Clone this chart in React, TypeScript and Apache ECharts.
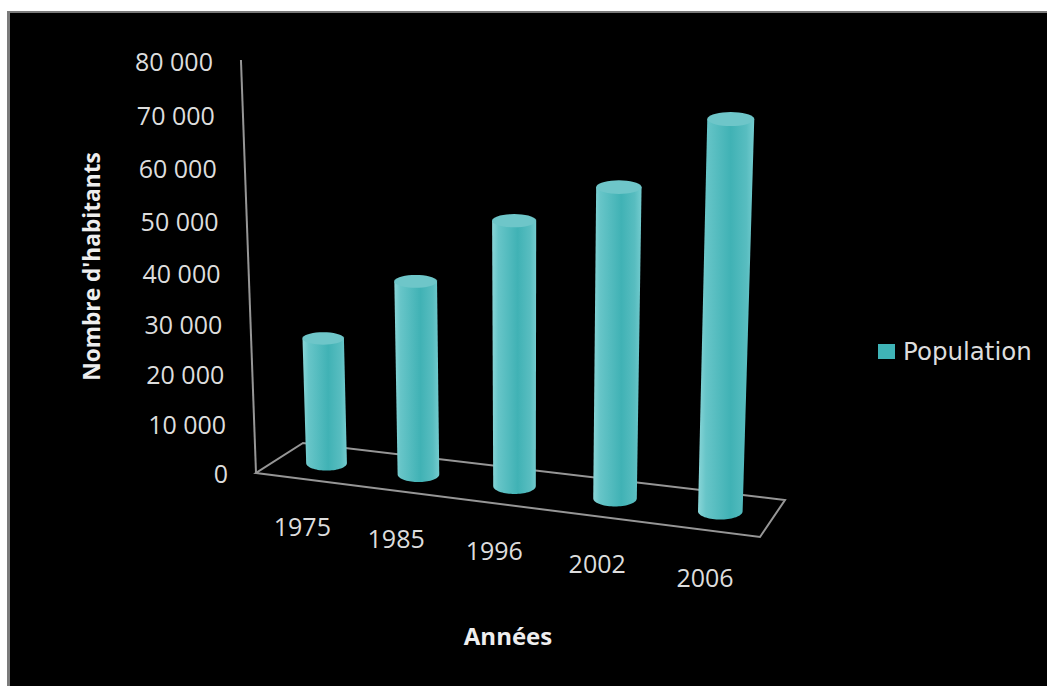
import React, { useEffect, useRef } from "react";
import * as echarts from "echarts";

// Population by census year
const categories = ["1975", "1985", "1996", "2002", "2006"];
const population = [24500, 37100, 49900, 57200, 70400];
const valueTicks = [0, 10000, 20000, 30000, 40000, 50000, 60000, 70000, 80000];

const WIDTH = 1047;
const HEIGHT = 686;
const GRID = { left: 256, top: 60, width: 504, height: 413 };

// Floor corners on screen: front-left, front-right, back-right, back-left
const FLOOR = [
  [256, 473],
  [760, 537],
  [785, 500],
  [303, 443],
];
const BAR_DEPTH = 0.5;
const BAR_SHIFT = 2;
const BAR_RADIUS = 0.205; // share of a category band
const LEAN = 0.000136; // convergence of the verticals
const LEAN_CENTER = 524;

const TEXT_FONT = "'Open Sans', sans-serif";
const TEXT_COLOR = "#dddddd";
const FRAME_COLOR = "#969696";
const BAR_COLOR = "#3fb4b7";

// Projective map from the unit floor square to the screen
function buildFloorMap() {
  const [[x0, y0], [x1, y1], [x2, y2], [x3, y3]] = FLOOR;
  const dx1 = x1 - x2, dx2 = x3 - x2, sx = x0 - x1 + x2 - x3;
  const dy1 = y1 - y2, dy2 = y3 - y2, sy = y0 - y1 + y2 - y3;
  const den = dx1 * dy2 - dx2 * dy1;
  const g = (sx * dy2 - dx2 * sy) / den;
  const h = (dx1 * sy - sx * dy1) / den;
  const a = x1 - x0 + g * x1, b = x3 - x0 + h * x3;
  const d = y1 - y0 + g * y1, e = y3 - y0 + h * y3;
  return (u: number, v: number) => {
    const w = 1 + g * u + h * v;
    return { x: (a * u + b * v + x0) / w, y: (d * u + e * v + y0) / w, scale: 1 / w };
  };
}
const floorAt = buildFloorMap();
const leanAt = (x: number) => (x - LEAN_CENTER) * LEAN;

const ellipsePoints = (cx: number, cy: number, rx: number, ry: number, from: number, to: number) => {
  const pts: number[][] = [];
  const steps = 36;
  for (let s = 0; s <= steps; s++) {
    const t = from + ((to - from) * s) / steps;
    pts.push([cx + rx * Math.cos(t), cy + ry * Math.sin(t)]);
  }
  return pts;
};

const bodyFill = new echarts.graphic.LinearGradient(0, 0, 1, 0, [
  { offset: 0, color: "#8ad6d8" },
  { offset: 0.14, color: "#67c5c8" },
  { offset: 0.58, color: "#40b2b5" },
  { offset: 0.86, color: "#58bdc0" },
  { offset: 1, color: "#74cccf" },
]);

const renderCylinder = (params: any, api: any) => {
  const cs = params.coordSys;
  const zero = api.coord([api.value(0), 0]);
  const peak = api.coord([api.value(0), api.value(1)]);
  const u = (zero[0] - cs.x) / cs.width;
  const base = floorAt(u, BAR_DEPTH);
  const baseX = base.x + BAR_SHIFT;
  const h = (zero[1] - peak[1]) * base.scale;
  const rx = (cs.width / categories.length) * BAR_RADIUS * base.scale;
  const topCx = baseX + leanAt(baseX) * h;
  const topRx = rx * (1 + LEAN * h);
  const topCy = base.y - h;
  const lower = ellipsePoints(baseX, base.y, rx, rx * 0.37, Math.PI, 0);
  const body = [...lower, [topCx + topRx, topCy], [topCx - topRx, topCy]];
  return {
    type: "group",
    children: [
      { type: "polygon", shape: { points: body }, style: { fill: bodyFill } },
      {
        type: "polygon",
        shape: { points: ellipsePoints(topCx, topCy, topRx, topRx * 0.3, 0, Math.PI * 2) },
        style: { fill: "#6ec6c9" },
      },
    ],
  };
};

// Wall edge and floor outline, tied to the value axis range
const renderFrame = (params: any, api: any) => {
  const cs = params.coordSys;
  const zeroY = api.coord([0, 0])[1];
  const topY = api.coord([0, valueTicks[valueTicks.length - 1]])[1];
  const wallH = zeroY - topY;
  const lineStyle = { stroke: FRAME_COLOR, lineWidth: 2, fill: "none" };
  return {
    type: "group",
    children: [
      {
        type: "polyline",
        shape: { points: [[cs.x + leanAt(cs.x) * wallH, topY], [cs.x, zeroY]] },
        style: lineStyle,
      },
      {
        type: "polygon",
        shape: { points: FLOOR },
        style: lineStyle,
      },
    ],
  };
};

const formatTick = (v: number) => String(v).replace(/\B(?=(\d{3})+$)/g, " ");

// Value labels follow the leaning wall edge
const renderValueLabel = (params: any, api: any) => {
  const cs = params.coordSys;
  const value = api.value(0);
  const y = api.coord([0, value])[1];
  const zeroY = cs.y + cs.height;
  const t = (zeroY - y) / cs.height;
  const x = cs.x + leanAt(cs.x) * (zeroY - y) - 28;
  return {
    type: "text",
    x,
    y: y + 22 * t * (1 - t) + 1 * t,
    style: {
      text: formatTick(value),
      align: "right",
      verticalAlign: "middle",
      fontFamily: TEXT_FONT,
      fontSize: 25,
      fill: TEXT_COLOR,
    },
  };
};

// Category labels sit at a fixed distance below the front floor edge
const renderCategoryLabel = (params: any, api: any) => {
  const cs = params.coordSys;
  const u = (api.coord([api.value(0), 0])[0] - cs.x) / cs.width;
  const p = floorAt(u, 0);
  return {
    type: "text",
    x: p.x + 1,
    y: p.y + 47,
    style: {
      text: categories[api.value(0)],
      align: "center",
      verticalAlign: "middle",
      fontFamily: TEXT_FONT,
      fontSize: 25,
      fill: TEXT_COLOR,
    },
  };
};

export default function App() {
  const ref = useRef<HTMLDivElement>(null);

  useEffect(() => {
    const chart = echarts.init(ref.current!, null, { renderer: "svg" });
    chart.setOption({
      animation: false,
      backgroundColor: "#ffffff",
      color: [BAR_COLOR],
      graphic: [
        { type: "rect", z: -2, shape: { x: 7, y: 11, width: WIDTH - 7, height: HEIGHT - 11 }, style: { fill: "#7b7b7b" } },
        { type: "rect", z: -1, shape: { x: 10, y: 13, width: WIDTH - 10, height: HEIGHT - 13 }, style: { fill: "#000000" } },
      ],
      grid: { ...GRID, containLabel: false },
      legend: {
        data: ["Population"],
        left: 873,
        top: 334,
        icon: "rect",
        itemWidth: 17,
        itemHeight: 15,
        itemGap: 0,
        selectedMode: false,
        textStyle: {
          color: TEXT_COLOR,
          fontSize: 24.5,
          fontFamily: "'DejaVu Sans', sans-serif",
          padding: [0, 0, 0, 3],
        },
      },
      xAxis: {
        type: "category",
        data: categories,
        name: "Années",
        nameLocation: "middle",
        nameGap: 150,
        nameTextStyle: { color: "#eeeeee", fontSize: 24, fontWeight: "bold", fontFamily: TEXT_FONT },
        axisLine: { show: false },
        axisTick: { show: false },
        axisLabel: { show: false },
      },
      yAxis: {
        type: "value",
        min: 0,
        max: 80000,
        interval: 10000,
        name: "Nombre d'habitants",
        nameLocation: "middle",
        nameGap: 153,
        nameTextStyle: { color: "#eeeeee", fontSize: 22.7, fontWeight: "bold", fontFamily: TEXT_FONT },
        axisLine: { show: false },
        axisTick: { show: false },
        axisLabel: { show: false },
        splitLine: { show: false },
      },
      series: [
        { type: "custom", name: "frame", silent: true, z: 1, renderItem: renderFrame, data: [[0]], encode: { x: 0 } },
        {
          type: "custom",
          name: "valueLabels",
          silent: true,
          renderItem: renderValueLabel,
          data: valueTicks.map((v) => [v]),
          encode: { y: 0 },
        },
        {
          type: "custom",
          name: "categoryLabels",
          silent: true,
          renderItem: renderCategoryLabel,
          data: categories.map((_, i) => [i]),
          encode: { x: 0 },
        },
        {
          type: "custom",
          name: "Population",
          z: 3,
          itemStyle: { color: BAR_COLOR },
          renderItem: renderCylinder,
          data: population.map((v, i) => [i, v]),
          encode: { x: 0, y: 1 },
        },
      ],
    });
    return () => chart.dispose();
  }, []);

  return (
    <div
      ref={ref}
      style={{ position: "fixed", left: 0, top: 0, width: WIDTH, height: HEIGHT }}
    />
  );
}
